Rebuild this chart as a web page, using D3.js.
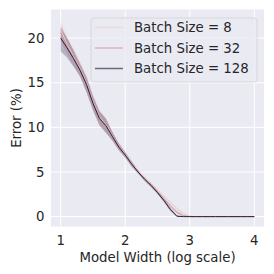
<!DOCTYPE html>
<meta charset="utf-8">
<script src="https://d3js.org/d3.v7.min.js"></script>
<style>
    body { margin: 0; background: #fff; }
    text { font-family: "DejaVu Sans", sans-serif; fill: #262626; font-size: 13.3px; }
    .grid line { stroke: #fff; stroke-width: 1; }
</style>
<div id="chart"></div>
<script>
// model width (log scale) sample points
const widths = [1.0,1.1,1.2,1.3,1.4,1.5,1.6,1.7,1.8,1.9,2.0,2.1,2.2,2.3,2.4,2.5,2.6,2.7,2.8,2.9,3.0,
                3.1,3.2,3.3,3.4,3.5,3.6,3.7,3.8,3.9,4.0];
const tail = [0,0,0,0,0,0,0,0,0,0];

const batchSizes = [8, 32, 128];
const seriesLabels = ["Batch Size = 8", "Batch Size = 32", "Batch Size = 128"];
const seriesColors = ["#edd1cb", "#cf96a3", "#2d1e3e"];

// mean error (%)
const mean8   = [20.9,19.3,17.9,16.6,15.0,12.9,11.2,10.3,9.1,7.9,7.0,6.0,5.1,4.3,3.7,3.0,2.3,1.6,0.9,0.35,0.05].concat(tail);
const mean32  = [20.6,19.1,17.8,16.5,14.9,12.8,11.1,10.2,9.0,7.9,6.9,5.9,5.0,4.2,3.6,2.8,2.0,1.2,0.5,0.1,0].concat(tail);
const mean128 = [20.0,18.9,17.7,16.4,14.8,12.7,11.0,10.2,9.0,7.8,6.9,5.9,5.0,4.2,3.5,2.7,1.8,0.8,0.05,0,0].concat(tail);

// confidence band lower / upper
const lo8   = [19.8,18.4,17.0,15.8,14.1,12.1,10.4,9.5,8.6,7.5,6.7,5.7,4.9,4.1,3.5,2.8,2.1,1.4,0.7,0.2,0].concat(tail);
const hi8   = [22.1,20.2,18.8,17.4,15.9,13.7,12.0,11.1,9.6,8.3,7.3,6.3,5.3,4.5,3.9,3.2,2.5,1.8,1.1,0.5,0.1].concat(tail);
const lo32  = [19.6,18.2,16.9,15.7,14.0,12.0,10.3,9.4,8.5,7.5,6.6,5.6,4.8,4.0,3.4,2.6,1.8,1.0,0.3,0,0].concat(tail);
const hi32  = [21.6,20.0,18.7,17.3,15.8,13.6,11.9,11.0,9.5,8.3,7.2,6.2,5.2,4.4,3.8,3.0,2.2,1.4,0.7,0.2,0].concat(tail);
const lo128 = [18.5,17.8,16.8,15.7,13.9,11.9,10.2,9.4,8.5,7.4,6.6,5.6,4.8,4.0,3.3,2.5,1.6,0.6,0,0,0].concat(tail);
const hi128 = [21.2,20.0,18.6,17.1,15.6,13.5,11.8,11.0,9.5,8.2,7.2,6.2,5.2,4.4,3.7,2.9,2.0,1.0,0.15,0,0].concat(tail);

const xTicks = [1, 2, 3, 4];
const yTicks = [0, 5, 10, 15, 20];

const means = [mean8, mean32, mean128];
const lows = [lo8, lo32, lo128];
const highs = [hi8, hi32, hi128];

const W = 274, H = 274;
const margin = {top: 9.5, right: 10, bottom: 47.5, left: 51};
const width = W - margin.left - margin.right,
      height = H - margin.top - margin.bottom;

// matplotlib style 5% padding
function padded(lo, hi) {
    const p = (hi - lo) * 0.05;
    return [lo - p, hi + p];
}

const x = d3.scaleLinear().domain(padded(d3.min(widths), d3.max(widths))).range([0, width]);
const yMax = d3.max(highs, a => d3.max(a));
const yMin = d3.min(lows, a => d3.min(a));
const y = d3.scaleLinear().domain(padded(yMin, yMax)).range([height, 0]);

const svg = d3.select("#chart").append("svg")
    .attr("width", W).attr("height", H);

const g = svg.append("g")
    .attr("transform", "translate(" + margin.left + "," + margin.top + ")");

g.append("rect").attr("width", width).attr("height", height).attr("fill", "#eaeaf2");

const grid = g.append("g").attr("class", "grid");
grid.selectAll(".gx").data(xTicks).enter().append("line")
    .attr("x1", d => x(d)).attr("x2", d => x(d)).attr("y1", 0).attr("y2", height);
grid.selectAll(".gy").data(yTicks).enter().append("line")
    .attr("x1", 0).attr("x2", width).attr("y1", d => y(d)).attr("y2", d => y(d));

// tick labels
g.selectAll(".xt").data(xTicks).enter().append("text")
    .attr("x", d => x(d)).attr("y", height + 18.5)
    .attr("text-anchor", "middle")
    .text(d => d);
g.selectAll(".yt").data(yTicks).enter().append("text")
    .attr("x", -6.5).attr("y", d => y(d)).attr("dy", "0.35em")
    .attr("text-anchor", "end")
    .text(d => d);

// bands
const area = d3.area()
    .x((d, i) => x(widths[i]))
    .y0(d => y(d[0]))
    .y1(d => y(d[1]));

batchSizes.forEach((b, k) => {
    const pts = widths.map((w, i) => [lows[k][i], highs[k][i]]);
    g.append("path").attr("d", area(pts))
        .attr("fill", seriesColors[k]).attr("fill-opacity", 0.27).attr("stroke", "none");
});

// lines
const line = d3.line()
    .x((d, i) => x(widths[i]))
    .y(d => y(d));

batchSizes.forEach((b, k) => {
    g.append("path").attr("d", line(means[k]))
        .attr("fill", "none").attr("stroke", seriesColors[k]).attr("stroke-width", 1);
});

// axis labels
svg.append("text")
    .attr("x", margin.left + width / 2).attr("y", 262)
    .attr("text-anchor", "middle")
    .text("Model Width (log scale)");
svg.append("text")
    .attr("transform", "translate(21," + (margin.top + height / 2) + ") rotate(-90)")
    .attr("text-anchor", "middle")
    .text("Error (%)");

// legend
const legend = svg.append("g").attr("transform", "translate(91,18)");
legend.append("rect")
    .attr("width", 166).attr("height", 64).attr("rx", 3)
    .attr("fill", "#eaeaf2").attr("fill-opacity", 0.8)
    .attr("stroke", "#cccccc").attr("stroke-opacity", 0.8).attr("stroke-width", 0.8);

seriesLabels.forEach((lab, k) => {
    const ly = 9.5 + k * 20.5;
    legend.append("line")
        .attr("x1", 4).attr("x2", 32).attr("y1", ly).attr("y2", ly)
        .attr("stroke", seriesColors[k]).attr("stroke-width", 1.5).attr("stroke-opacity", 0.65);
    legend.append("text")
        .attr("x", 43).attr("y", ly).attr("dy", "0.35em")
        .text(lab);
});
</script>
